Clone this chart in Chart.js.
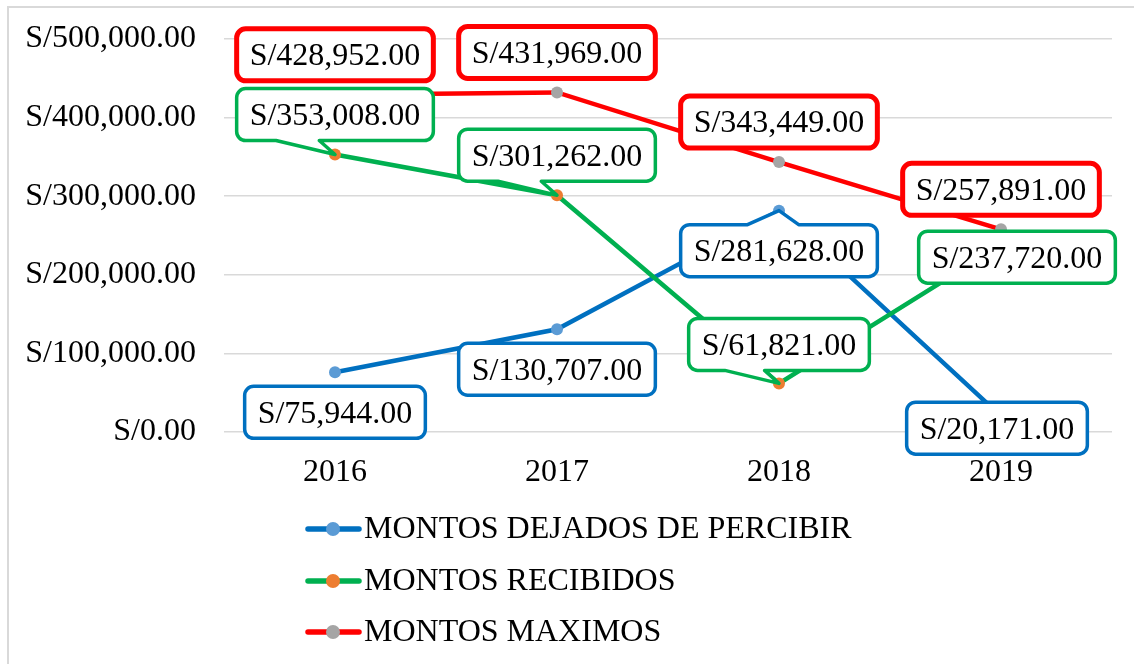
<!DOCTYPE html>
<html lang="es">
<head>
<meta charset="UTF-8" />
<title>Montos</title>
<script src="https://cdn.jsdelivr.net/npm/chart.js@4.4.1/dist/chart.umd.min.js"></script>
<style>
	body { margin: 0; background: #fff; }
	#wrap { position: relative; width: 1134px; height: 664px; }
</style>
</head>
<body>
<div id="wrap"><canvas id="myChart" width="1134" height="664"></canvas></div>
<script>
	// data
	const years = ['2016', '2017', '2018', '2019'];
	const dejados = [75944, 130707, 281628, 20171];
	const recibidos = [353008, 301262, 61821, 237720];
	const maximos = [428952, 431969, 343449, 257891];

	// label placement (px from the point) and callout side
	const dejadosLabel = [[0, 40], [0, 40], [0, 40], [-4, 12]];
	const recibidosLabel = [[0, -40], [0, -40], [0, -39], [16, 12]];
	const maximosLabel = [[0, -40], [0, -40], [0, -40], [0, -40]];
	const dejadosCallout = [null, null, 'top', null];
	const recibidosCallout = ['bottom', 'bottom', 'bottom', null];
	const maximosCallout = [null, null, null, null];

	const FONT = "'Liberation Serif', 'Times New Roman', serif";
	const money = v => 'S/' + Number(v).toLocaleString('en-US', {minimumFractionDigits: 2, maximumFractionDigits: 2});

	function boxPath(ctx, x, y, w, h, r, side, px, py) {
		let b1, b2;
		if (side == 'bottom') { b1 = px - 0.3 * w; b2 = px - 0.08 * w; }
		if (side == 'top') { b1 = px - 0.16 * w; b2 = px + 0.1 * w; }
		ctx.beginPath();
		ctx.moveTo(x + r, y);
		if (side == 'top') { ctx.lineTo(b1, y); ctx.lineTo(px, py); ctx.lineTo(b2, y); }
		ctx.lineTo(x + w - r, y);
		ctx.arcTo(x + w, y, x + w, y + r, r);
		ctx.lineTo(x + w, y + h - r);
		ctx.arcTo(x + w, y + h, x + w - r, y + h, r);
		if (side == 'bottom') { ctx.lineTo(b2, y + h); ctx.lineTo(px, py); ctx.lineTo(b1, y + h); }
		ctx.lineTo(x + r, y + h);
		ctx.arcTo(x, y + h, x, y + h - r, r);
		ctx.lineTo(x, y + r);
		ctx.arcTo(x, y, x + r, y, r);
		ctx.closePath();
	}

	const labelBoxes = {
		id: 'labelBoxes',
		afterDatasetsDraw(chart) {
			const ctx = chart.ctx;
			ctx.save();
			ctx.font = '32px ' + FONT;
			ctx.textAlign = 'center';
			ctx.textBaseline = 'middle';
			chart.data.datasets.forEach((ds, di) => {
				const meta = chart.getDatasetMeta(di);
				meta.data.forEach((pt, i) => {
					const txt = money(ds.data[i]);
					const w = ctx.measureText(txt).width + 26;
					const h = 52;
					const cx = pt.x + ds.labelPos[i][0];
					const cy = pt.y + ds.labelPos[i][1];
					boxPath(ctx, cx - w / 2, cy - h / 2, w, h, 9, ds.callout[i], pt.x, pt.y);
					ctx.fillStyle = '#fff';
					ctx.fill();
					ctx.lineWidth = ds.boxWidth;
					ctx.strokeStyle = ds.borderColor;
					ctx.lineJoin = 'round';
					ctx.stroke();
					ctx.fillStyle = '#000';
					ctx.fillText(txt, cx, cy + 2);
				});
			});
			ctx.restore();
		}
	};

	const sideLegend = {
		id: 'sideLegend',
		afterDraw(chart) {
			const ctx = chart.ctx;
			const rows = [529, 581, 632];
			ctx.save();
			// frame (left and top edges only, picture is cropped)
			ctx.strokeStyle = '#d9d9d9';
			ctx.lineWidth = 2;
			ctx.beginPath();
			ctx.moveTo(8, 664); ctx.lineTo(8, 7); ctx.lineTo(1134, 7);
			ctx.stroke();
			ctx.font = '32px ' + FONT;
			ctx.textBaseline = 'middle';
			chart.data.datasets.forEach((ds, i) => {
				const y = rows[i];
				ctx.strokeStyle = ds.borderColor;
				ctx.lineWidth = 5.5;
				ctx.lineCap = 'round';
				ctx.beginPath(); ctx.moveTo(308, y); ctx.lineTo(359, y); ctx.stroke();
				ctx.fillStyle = ds.pointBackgroundColor;
				ctx.beginPath(); ctx.arc(333, y, 7, 0, Math.PI * 2); ctx.fill();
				ctx.fillStyle = '#000';
				ctx.fillText(ds.label, 364, y + 1);
			});
			ctx.restore();
		}
	};

	const ctx = document.getElementById('myChart').getContext('2d');
	const chart = new Chart(ctx, {
		type: 'line',
		data: {
			labels: years,
			datasets: [{
				label: 'MONTOS DEJADOS DE PERCIBIR',
				data: dejados,
				borderColor: '#0070C0',
				pointBackgroundColor: '#5B9BD5',
				labelPos: dejadosLabel,
				callout: dejadosCallout,
				boxWidth: 3.5,
				order: 3
			}, {
				label: 'MONTOS RECIBIDOS',
				data: recibidos,
				borderColor: '#00B050',
				pointBackgroundColor: '#ED7D31',
				labelPos: recibidosLabel,
				callout: recibidosCallout,
				boxWidth: 3.5,
				order: 2
			}, {
				label: 'MONTOS MAXIMOS',
				data: maximos,
				borderColor: '#FF0000',
				pointBackgroundColor: '#A5A5A5',
				labelPos: maximosLabel,
				callout: maximosCallout,
				boxWidth: 5,
				order: 1
			}]
		},
		options: {
			responsive: false,
			animation: false,
			devicePixelRatio: 1,
			layout: { padding: { top: 39, right: 22, bottom: 182, left: 0 } },
			elements: {
				line: { borderWidth: 4.5, tension: 0, fill: false },
				point: { radius: 6, borderWidth: 0, hoverRadius: 6 }
			},
			plugins: {
				legend: { display: false },
				tooltip: { enabled: false }
			},
			scales: {
				x: {
					offset: true,
					grid: { display: false, drawTicks: false },
					border: { display: false },
					ticks: { color: '#000', padding: 21, font: { family: FONT, size: 32 } },
					afterFit: s => { s.height = 50; }
				},
				y: {
					min: 0,
					max: 500000,
					grid: { color: '#d9d9d9', lineWidth: 1.5, drawTicks: false },
					border: { display: false },
					ticks: {
						stepSize: 100000,
						color: '#000',
						padding: 28,
						font: { family: FONT, size: 32, lineHeight: 0.6 },
						callback: v => money(v)
					},
					afterFit: s => { s.width = 224; s.paddingTop = 0; s.paddingBottom = 0; }
				}
			}
		},
		plugins: [labelBoxes, sideLegend]
	});
</script>
</body>
</html>
